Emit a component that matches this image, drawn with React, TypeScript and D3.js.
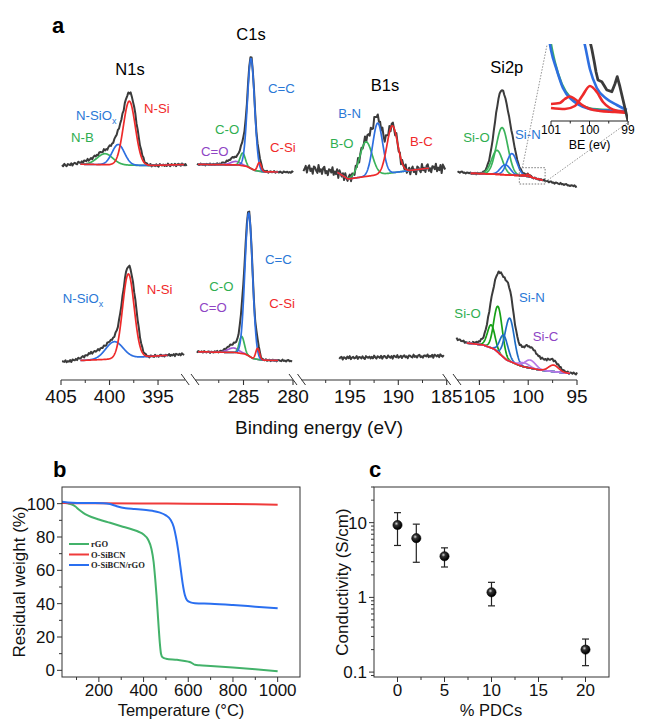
import React from "react";
import * as d3 from "d3";

const FONT = "'Liberation Sans', Arial, Helvetica, sans-serif";
const SERIF = "'Liberation Serif', 'Times New Roman', serif";

// ================= Panel a : XPS =================
const segDomains: [number, number][] = [[405, 392.2], [289.9, 280], [200, 185], [107.3, 95]];
const segMajorTicks = [[405, 400, 395], [285, 280], [195, 190, 185], [105, 100, 95]];
const segMinorTicks = [[402.5, 397.5], [287.5, 282.5], [197.5, 192.5, 187.5], [102.5, 97.5]];
const axisTitleA = "Binding energy (eV)";

// hand-typed measurement noise pattern
const NOISE = [0.2, -0.6, 0.9, -0.1, -0.8, 0.5, 0.1, -0.4, 0.7, -0.9, 0.3, 0.6, -0.2, -0.7, 0.8, 0.0, -0.5, 0.4, -1.0, 0.6,
  0.2, -0.3, 0.9, -0.6, -0.1, 0.5, -0.8, 0.3, 0.7, -0.4, 0.1, -0.9, 0.6, 0.4, -0.2, -0.6, 1.0, -0.3, 0.2, -0.7,
  0.5, 0.8, -0.5, 0.0, -0.8, 0.4, 0.3, -0.2, 0.9, -0.6, 0.1, -0.4, 0.6, -1.0, 0.7, 0.2, -0.3, 0.5, -0.7, 0.8,
  -0.1, -0.5, 0.3, 0.6, -0.9, 0.4, 0.0, -0.6, 0.7, -0.2, 0.9, -0.8, 0.1, 0.5, -0.4, -0.1, 0.8, -0.7, 0.3, 0.2,
  -0.5, 0.6, -0.3, -0.9, 0.7, 0.1, -0.2, 0.4, -0.6];

// background knots [eV, intensity]; fit components [bond, centre eV, height, FWHM eV]; extra [centre, height, FWHM]
const n1sTopBg = [[405, 24.5], [403, 25.8], [399, 25], [396, 24.5], [392, 25.5]];
const n1sTopFit = [["N-B", 400.46, 11, 1.9], ["N-SiOx", 399.1, 20.5, 1.5], ["N-Si", 397.96, 64, 1.45]];
const n1sTopExtra = [[401.8, 3.5, 2.5], [397.3, 12, 1.1]];

const c1sTopBg = [[289.9, 25.7], [285.5, 25], [284.65, 23.5], [284.25, 21.5], [283.85, 19.5], [283.05, 18.2], [279.7, 17.7]];
const c1sTopFit = [["C=O", 285.79, 3.5, 1.2], ["C-O", 285.08, 12.7, 0.6], ["C=C", 284.24, 110, 0.85], ["C-Si", 283.4, 8.7, 0.45]];
const c1sTopExtra = [[285.5, 5, 2.5]];

const b1sTopBg = [[199.9, 22], [196.3, 17.7], [195.2, 11], [193, 14], [190, 18], [187, 21.7], [185, 22]];
const b1sTopFit = [["B-O", 193.34, 34.6, 1.5], ["B-N", 192.13, 51.7, 1.2], ["B-C", 190.62, 47, 1.3]];
const b1sTopExtra: number[][] = [];

const si2pTopBg = [[107.3, 18.3], [105.9, 16.7], [104.5, 16.3], [101, 14.5], [100, 13.5], [99, 11], [97.5, 7.5], [94.9, 3.3]];
const si2pTopFit = [["Si-O", 103.2, 24, 1.3], ["Si-O", 102.68, 47, 1.4], ["Si-N", 102.35, 10, 1.2], ["Si-N", 101.67, 21.5, 1.2], ["bg", 100.53, 1.2, 0.4], ["bg", 100.0, 2.2, 0.45]];
const si2pTopExtra = [[102.6, 11, 1.8]];

const n1sBotBg = [[405, 18], [403, 19.5], [399.5, 21], [396, 23.5], [392, 26]];
const n1sBotFit = [["N-SiOx", 399.5, 17.3, 2.1], ["N-Si", 398.06, 84, 1.4]];
const n1sBotExtra = [[401.5, 7, 2.5], [397.3, 16, 1.0]];

const c1sBotBg = [[289.9, 28.3], [285.85, 27.5], [284.85, 26], [284.45, 24], [284.05, 21.5], [283.25, 20], [279.7, 19]];
const c1sBotFit = [["C=O", 286.03, 4.5, 1.3], ["C-O", 285.18, 17, 0.6], ["C=C", 284.47, 143, 0.9], ["C-Si", 283.57, 11, 0.45]];
const c1sBotExtra = [[285.6, 5, 2]];

const b1sBotBg = [[196.1, 22], [185.2, 24.3]];

const si2pBotBg = [[107.4, 41.5], [106.3, 37], [104.6, 35], [103.5, 31], [102.2, 20], [101, 15], [100.5, 13.3], [98.8, 10], [95.9, 6.7], [94.9, 6.5]];
const si2pBotFit = [["Si-O", 103.8, 23, 0.9], ["Si-O", 103.1, 46, 1.0], ["Si-N", 102.5, 22, 1.0], ["Si-N", 101.9, 43, 1.1], ["Si-C", 100.4, 4, 1.2], ["Si-C", 99.8, 8, 1.3], ["bg", 97.4, 6.5, 1.2]];
const si2pBotExtra = [[102.5, 22, 3], [99, 11, 3]];

// titles [text, eV, intensity] and labels [text, eV, intensity, bond]
const specTitles = [["N1s", 397.89, 115, 0], ["C1s", 284.24, 150, 1], ["B1s", 191.37, 99.3, 2], ["Si2p", 102.2, 117.3, 3]];
const topLabels = [
  ["N-SiO_x", 403.45, 70, "N-SiOx", 0], ["N-Si", 396.44, 77, "N-Si", 0], ["N-B", 403.97, 48.3, "N-B", 0],
  ["C=C", 282.53, 97.3, "C=C", 1], ["C-O", 287.88, 56, "C-O", 1], ["C=O", 289.29, 34, "C=O", 1], ["C-Si", 282.32, 38.3, "C-Si", 1],
  ["B-N", 196.2, 71.7, "B-N", 2], ["B-O", 197.06, 41.7, "B-O", 2], ["B-C", 188.79, 44.3, "B-C", 2],
  ["Si-O", 106.65, 48.3, "Si-O", 3], ["Si-N", 101.35, 50.7, "Si-N", 3],
];
const botLabels = [
  ["N-SiO_x", 404.82, 77.3, "N-SiOx", 0], ["N-Si", 396.16, 86, "N-Si", 0],
  ["C=C", 282.83, 116, "C=C", 1], ["C-O", 288.45, 89.3, "C-O", 1], ["C=O", 289.46, 68, "C=O", 1], ["C-Si", 282.39, 71.7, "C-Si", 1],
  ["Si-O", 107.57, 61.7, "Si-O", 3], ["Si-N", 100.94, 77.7, "Si-N", 3], ["Si-C", 99.54, 39.3, "Si-C", 3],
];

// zoom box in Si2p (eV range, intensity range)
const zoomBoxE = [100.91, 98.27];
const zoomBoxI = [22.3, 6];
// inset: [eV, zoomed intensity]
const insetTicks = [101, 100, 99];
const insetMinor = [100.5, 99.5];
const insetBlack = [[100.05, 95], [99.99, 80], [99.94, 72], [99.88, 60], [99.83, 49], [99.78, 41], [99.68, 39.3], [99.55, 31], [99.42, 29.3], [99.34, 37], [99.28, 44.3], [99.21, 34.3], [99.08, 13], [99.0, 0]];
const insetBlueR = [[100.25, 95], [100.12, 76], [99.99, 52], [99.81, 33], [99.55, 22], [99.29, 16], [99.03, 11]];
const insetBlueL = [[101.05, 82], [101, 71], [100.85, 51], [100.69, 33], [100.43, 20.3], [100.17, 14.3], [99.81, 11], [99.39, 10.3], [99.03, 10]];
const insetGreenL = [[101.03, 84], [101, 77], [100.9, 59], [100.72, 37], [100.46, 22], [100.17, 15], [99.81, 11.7], [99.47, 11]];
const insetRed1 = [[101, 17], [100.77, 18], [100.64, 22], [100.51, 24.5], [100.38, 22], [100.19, 16], [99.99, 12], [99.73, 10], [99.34, 9], [99.03, 8]];
const insetRed2 = [[101, 13], [100.64, 12], [100.38, 15], [100.19, 25], [99.99, 35], [99.81, 29], [99.65, 19], [99.47, 13], [99.26, 10], [99.03, 9]];

// ================= Panel b : TGA =================
const rgoT = [35, 60, 80, 95, 110, 130, 150, 200, 250, 300, 350, 380, 400, 420, 435, 445, 452, 458, 463, 468, 473, 478, 485, 500, 550, 600, 615, 630, 650, 700, 800, 900, 1000];
const rgoW = [100.5, 100.2, 99.5, 98.3, 96.5, 94.5, 93, 90.5, 88.5, 86.5, 84.5, 83, 81.5, 78.5, 73, 65, 55, 45, 35, 25, 16, 10, 7.8, 7, 6.3, 5.2, 4.5, 3.3, 3, 2.6, 1.7, 0.7, -0.5];
const osiT = [35, 100, 200, 400, 600, 800, 900, 1000];
const osiW = [100.4, 100.3, 100.2, 100.1, 100, 99.8, 99.6, 99.3];
const compT = [35, 80, 150, 220, 250, 280, 320, 360, 400, 440, 470, 500, 520, 535, 545, 555, 565, 575, 585, 595, 610, 630, 700, 800, 900, 1000];
const compW = [101.2, 100.6, 100.4, 100.3, 99.8, 98.5, 97.3, 96.8, 96.3, 95.7, 94.8, 93, 90.5, 86, 80, 72, 62, 52, 45, 42, 40.8, 40.3, 40, 39.2, 38.2, 37.2];
const tgaLegend = ["rGO", "O-SiBCN", "O-SiBCN/rGO"];
const bXTicks = [200, 400, 600, 800, 1000];
const bXMinor = [100, 300, 500, 700, 900];
const bYTicks = [0, 20, 40, 60, 80, 100];
const bYMinor = [10, 30, 50, 70, 90];

// ================= Panel c : conductivity =================
const pdc = [0, 2, 5, 10, 20];
const cond = [9.3, 6.2, 3.55, 1.17, 0.2];
const condLo = [4.95, 2.95, 2.55, 0.77, 0.122];
const condHi = [13.6, 9.55, 4.6, 1.59, 0.277];
const cXTicks = [0, 5, 10, 15, 20];
const cXMinor = [2.5, 7.5, 12.5, 17.5];
const cYTicks = [0.1, 1, 10];
const cYTickLabels = ["0.1", "1", "10"];
const cYMinor = [0.09, 0.2, 0.3, 0.4, 0.5, 0.6, 0.7, 0.8, 0.9, 2, 3, 4, 5, 6, 7, 8, 9, 20, 30];

// ================= styles / layout =================
const C = { red: "#ee2a2a", blue: "#2e6fe0", green: "#3bb35b", purple: "#a45bd6", black: "#3b3b3b" };
const bondColor: Record<string, string> = {
  "N-B": C.green, "N-SiOx": C.blue, "N-Si": C.red, "C=O": C.purple, "C-O": C.green, "C=C": C.blue, "C-Si": C.red,
  "B-O": C.green, "B-N": C.blue, "B-C": C.red, "Si-O": C.green, "Si-N": C.blue, "Si-C": C.purple, bg: C.red,
};
const darkBondColor: Record<string, string> = { ...bondColor, "Si-O": "#17a017", "Si-N": "#1d6cc4", "Si-C": "#b67be6" };
const labelColor: Record<string, string> = {
  "N-B": "#2fae50", "N-SiOx": "#2a78d6", "N-Si": "#f02a2a", "C=O": "#8e44c4", "C-O": "#2fae50", "C=C": "#2a78d6", "C-Si": "#f02a2a",
  "B-O": "#2fae50", "B-N": "#2a78d6", "B-C": "#f02a2a", "Si-O": "#2fae50", "Si-N": "#2a78d6", "Si-C": "#8e44c4",
};

const SEG_RANGES: [number, number][] = [[61, 185.2], [195, 293], [301.5, 446.7], [457, 577]];
const AXIS_Y = 380;
const segScales = segDomains.map((d, i) => d3.scaleLinear().domain(d).range(SEG_RANGES[i]));
const rowScales = [d3.scaleLinear().domain([0, 130]).range([190, 60]), d3.scaleLinear().domain([0, 170]).range([380, 210])];

type Spec = { seg: number; row: number; range: number[]; fitRange: number[]; bg: number[][]; fit: any[]; extra: number[][]; noise: number; off: number; dark?: boolean };
const spectra: Spec[] = [
  { seg: 0, row: 0, range: [404.9, 392.0], fitRange: [403, 392.3], bg: n1sTopBg, fit: n1sTopFit, extra: n1sTopExtra, noise: 1.5, off: 0 },
  { seg: 1, row: 0, range: [289.7, 279.9], fitRange: [289.6, 281.5], bg: c1sTopBg, fit: c1sTopFit, extra: c1sTopExtra, noise: 1.0, off: 11 },
  { seg: 2, row: 0, range: [199.8, 185.1], fitRange: [196.3, 186.8], bg: b1sTopBg, fit: b1sTopFit, extra: b1sTopExtra, noise: 5, off: 23 },
  { seg: 3, row: 0, range: [107.25, 94.95], fitRange: [105.9, 98.5], bg: si2pTopBg, fit: si2pTopFit, extra: si2pTopExtra, noise: 0.9, off: 37 },
  { seg: 0, row: 1, range: [404.9, 392.2], fitRange: [403, 394], bg: n1sBotBg, fit: n1sBotFit, extra: n1sBotExtra, noise: 1.3, off: 45 },
  { seg: 1, row: 1, range: [289.7, 280.0], fitRange: [289.6, 281.5], bg: c1sBotBg, fit: c1sBotFit, extra: c1sBotExtra, noise: 1.0, off: 53 },
  { seg: 2, row: 1, range: [196.1, 185.2], fitRange: [196, 196], bg: b1sBotBg, fit: [], extra: [], noise: 1.8, off: 61 },
  { seg: 3, row: 1, range: [107.35, 94.95], fitRange: [106.3, 95.7], bg: si2pBotBg, fit: si2pBotFit, extra: si2pBotExtra, noise: 1.2, off: 70, dark: true },
];

const gauss = (E: number, c: number, h: number, w: number) => h * Math.exp((-4 * Math.LN2 * (E - c) * (E - c)) / (w * w));

function Spectrum({ s }: { s: Spec }) {
  const x = segScales[s.seg];
  const y = rowScales[s.row];
  const bg = d3.scaleLinear().domain(s.bg.map((k) => k[0])).range(s.bg.map((k) => k[1])).clamp(true);
  const measured = (E: number) =>
    bg(E) + s.fit.reduce((a, f) => a + gauss(E, f[1], f[2], f[3]), 0) + s.extra.reduce((a, f) => a + gauss(E, f[0], f[1], f[2]), 0);
  const line = d3.line<number[]>().x((d) => x(d[0])).y((d) => y(d[1]));
  const Es = d3.range(s.range[0], s.range[1], -0.12);
  const black = line(Es.map((E, i) => [E, measured(E) + s.noise * NOISE[(i + s.off) % NOISE.length]]));
  const fEs = d3.range(s.fitRange[0], s.fitRange[1], -0.03);
  const pal = s.dark ? darkBondColor : bondColor;
  return (
    <g>
      <path d={black || ""} fill="none" stroke={C.black} strokeWidth={2} strokeLinejoin="round" />
      {s.fit.map((f, i) => (
        <path key={i} d={line(fEs.map((E) => [E, bg(E) + gauss(E, f[1], f[2], f[3])])) || ""} fill="none" stroke={pal[f[0]]} strokeWidth={1.7} />
      ))}
    </g>
  );
}

function Label({ t, x, y, color }: { t: string; x: number; y: number; color: string }) {
  if (t.endsWith("_x")) {
    return (
      <text x={x} y={y} fill={color} fontSize={13.2}>
        {t.slice(0, -2)}
        <tspan dy={4} fontSize={9}>x</tspan>
      </text>
    );
  }
  return (
    <text x={x} y={y} fill={color} fontSize={13.2}>{t}</text>
  );
}

function PanelA() {
  const insX = d3.scaleLinear().domain([101, 99]).range([551, 628]);
  const insY = d3.scaleLinear().domain([0, 80]).range([121, 41]);
  const iline = d3.line<number[]>().x((d) => insX(d[0])).y((d) => insY(d[1])).curve(d3.curveMonotoneX);
  const s3 = segScales[3];
  const r0 = rowScales[0];
  const bx0 = s3(zoomBoxE[0]), bx1 = s3(zoomBoxE[1]), by0 = r0(zoomBoxI[0]), by1 = r0(zoomBoxI[1]);
  const slashes: number[] = [];
  SEG_RANGES.forEach((r, i) => {
    if (i > 0) slashes.push(r[0]);
    if (i < SEG_RANGES.length - 1) slashes.push(r[1]);
  });
  return (
    <g>
      <text x={52} y={33} fontSize={22} fontWeight="bold">a</text>
      {spectra.map((s, i) => <Spectrum key={i} s={s} />)}
      {specTitles.map((t, i) => (
        <text key={i} x={segScales[t[3] as number](t[1] as number)} y={r0(t[2] as number)} fontSize={16.5} textAnchor="middle">{t[0]}</text>
      ))}
      {topLabels.map((l, i) => (
        <Label key={i} t={l[0] as string} x={segScales[l[4] as number](l[1] as number)} y={r0(l[2] as number)} color={labelColor[l[3] as string]} />
      ))}
      {botLabels.map((l, i) => (
        <Label key={i} t={l[0] as string} x={segScales[l[4] as number](l[1] as number)} y={rowScales[1](l[2] as number)} color={labelColor[l[3] as string]} />
      ))}
      {/* zoom box and guides */}
      <rect x={bx0} y={by0} width={bx1 - bx0} height={by1 - by0} fill="none" stroke="#555" strokeWidth={0.8} strokeDasharray="1.5,1.5" />
      <line x1={bx0 + 3} y1={by0} x2={insX(101) - 4} y2={insY(80) + 4} stroke="#777" strokeWidth={0.8} strokeDasharray="1.5,1.5" />
      <line x1={bx1} y1={by1 - 2} x2={insX(99) + 2} y2={insY(0)} stroke="#777" strokeWidth={0.8} strokeDasharray="1.5,1.5" />
      {/* inset */}
      <defs>
        <clipPath id="insClip">
          <rect x={insX(101) - 3} y={44} width={insX(99) - insX(101) + 3} height={insY(0) - 44} />
        </clipPath>
      </defs>
      <g clipPath="url(#insClip)">
        <path d={iline(insetGreenL) || ""} fill="none" stroke={C.green} strokeWidth={2.4} />
        <path d={iline(insetBlueL) || ""} fill="none" stroke={C.blue} strokeWidth={2.6} />
        <path d={iline(insetBlueR) || ""} fill="none" stroke={C.blue} strokeWidth={2.6} />
        <path d={iline(insetRed1) || ""} fill="none" stroke={C.red} strokeWidth={2.6} />
        <path d={iline(insetRed2) || ""} fill="none" stroke={C.red} strokeWidth={2.6} />
        <path d={d3.line<number[]>().x((d) => insX(d[0])).y((d) => insY(d[1]))(insetBlack) || ""} fill="none" stroke={C.black} strokeWidth={2.8} strokeLinejoin="round" />
      </g>
      <line x1={insX(101)} x2={insX(99)} y1={insY(0)} y2={insY(0)} stroke="#222" strokeWidth={1} />
      {insetTicks.map((t) => (
        <g key={t}>
          <line x1={insX(t)} x2={insX(t)} y1={insY(0)} y2={insY(0) + 4} stroke="#222" />
          <text x={insX(t)} y={insY(0) + 13} fontSize={12} textAnchor="middle">{t}</text>
        </g>
      ))}
      {insetMinor.map((t) => <line key={t} x1={insX(t)} x2={insX(t)} y1={insY(0)} y2={insY(0) + 2.5} stroke="#222" />)}
      <text x={(insX(101) + insX(99)) / 2} y={149} fontSize={12.5} textAnchor="middle">BE (ev)</text>
      {/* axis */}
      {segScales.map((sc, i) => (
        <g key={i}>
          <line x1={SEG_RANGES[i][0]} x2={SEG_RANGES[i][1]} y1={AXIS_Y} y2={AXIS_Y} stroke="#333" strokeWidth={1.1} />
          {segMajorTicks[i].map((t) => (
            <g key={t}>
              <line x1={sc(t)} x2={sc(t)} y1={AXIS_Y} y2={AXIS_Y + 5} stroke="#333" strokeWidth={1.1} />
              <text x={sc(t)} y={AXIS_Y + 23} fontSize={19} textAnchor="middle" fill="#111">{t}</text>
            </g>
          ))}
          {segMinorTicks[i].map((t) => <line key={t} x1={sc(t)} x2={sc(t)} y1={AXIS_Y} y2={AXIS_Y + 3} stroke="#333" strokeWidth={1} />)}
        </g>
      ))}
      {slashes.map((sx, i) => <line key={i} x1={sx - 4} y1={AXIS_Y - 6} x2={sx + 4} y2={AXIS_Y + 5} stroke="#333" strokeWidth={1} />)}
      <text x={319} y={434} fontSize={19} textAnchor="middle" fill="#111">{axisTitleA}</text>
    </g>
  );
}

function PanelB() {
  const x = d3.scaleLinear().domain([35, 1100]).range([62, 300]);
  const y = d3.scaleLinear().domain([-4, 110]).range([677, 487]);
  const mk = (T: number[], W: number[]) => d3.line<number>().x((_, i) => x(T[i])).y((d) => y(d)).curve(d3.curveMonotoneX)(W) || "";
  const series = [
    { name: tgaLegend[0], d: mk(rgoT, rgoW), color: "#43b26a" },
    { name: tgaLegend[1], d: mk(osiT, osiW), color: "#ef3b3b" },
    { name: tgaLegend[2], d: mk(compT, compW), color: "#2a6ff0" },
  ];
  const [x0, x1] = x.range();
  const [yb, yt] = y.range();
  return (
    <g>
      <text x={53} y={477} fontSize={22} fontWeight="bold">b</text>
      {series.map((s) => <path key={s.name} d={s.d} fill="none" stroke={s.color} strokeWidth={2} />)}
      <rect x={x0} y={yt} width={x1 - x0} height={yb - yt} fill="none" stroke="#333" strokeWidth={1} />
      {bXTicks.map((t) => (
        <g key={t}>
          <line x1={x(t)} x2={x(t)} y1={yb} y2={yb + 5} stroke="#333" />
          <text x={x(t)} y={696} fontSize={17} textAnchor="middle" fill="#111">{t}</text>
        </g>
      ))}
      {bXMinor.map((t) => <line key={t} x1={x(t)} x2={x(t)} y1={yb} y2={yb + 3} stroke="#333" />)}
      {bYTicks.map((t) => (
        <g key={t}>
          <line x1={x0 - 5} x2={x0} y1={y(t)} y2={y(t)} stroke="#333" />
          <text x={x0 - 7} y={y(t) + 6} fontSize={17} textAnchor="end" fill="#111">{t}</text>
        </g>
      ))}
      {bYMinor.map((t) => <line key={t} x1={x0 - 3} x2={x0} y1={y(t)} y2={y(t)} stroke="#333" />)}
      <text x={181} y={716} fontSize={16.5} textAnchor="middle" fill="#111">Temperature (°C)</text>
      <text transform={`translate(25,582) rotate(-90)`} fontSize={17} textAnchor="middle" fill="#111">Residual weight (%)</text>
      {series.map((s, i) => (
        <g key={s.name}>
          <line x1={69} x2={89} y1={544 + i * 10.5} y2={544 + i * 10.5} stroke={s.color} strokeWidth={2} />
          <text x={91} y={547 + i * 10.5} fontSize={8.5} fontFamily={SERIF} fontWeight="bold" fill="#222">{s.name}</text>
        </g>
      ))}
    </g>
  );
}

function PanelC() {
  const x = d3.scaleLinear().domain([-2.5, 22.5]).range([374, 609]);
  const y = d3.scaleLog().domain([0.086, 30]).range([677, 487]);
  const [x0, x1] = x.range();
  const [yb, yt] = y.range();
  return (
    <g>
      <text x={369} y={477} fontSize={22} fontWeight="bold">c</text>
      <defs>
        <radialGradient id="ball" cx="0.38" cy="0.35" r="0.6">
          <stop offset="0" stopColor="#d8d8d8" />
          <stop offset="0.35" stopColor="#333" />
          <stop offset="1" stopColor="#000" />
        </radialGradient>
      </defs>
      <rect x={x0} y={yt} width={x1 - x0} height={yb - yt} fill="none" stroke="#333" strokeWidth={1} />
      {pdc.map((p, i) => (
        <g key={p}>
          <line x1={x(p)} x2={x(p)} y1={y(condLo[i])} y2={y(condHi[i])} stroke="#222" strokeWidth={1.2} />
          <line x1={x(p) - 3.5} x2={x(p) + 3.5} y1={y(condLo[i])} y2={y(condLo[i])} stroke="#222" strokeWidth={1.2} />
          <line x1={x(p) - 3.5} x2={x(p) + 3.5} y1={y(condHi[i])} y2={y(condHi[i])} stroke="#222" strokeWidth={1.2} />
          <circle cx={x(p)} cy={y(cond[i])} r={4.6} fill="url(#ball)" stroke="#000" strokeWidth={0.6} />
        </g>
      ))}
      {cXTicks.map((t) => (
        <g key={t}>
          <line x1={x(t)} x2={x(t)} y1={yb} y2={yb + 5} stroke="#333" />
          <text x={x(t)} y={696} fontSize={17} textAnchor="middle" fill="#111">{t}</text>
        </g>
      ))}
      {cXMinor.map((t) => <line key={t} x1={x(t)} x2={x(t)} y1={yb} y2={yb + 3} stroke="#333" />)}
      {cYTicks.map((t, i) => (
        <g key={t}>
          <line x1={x0 - 5} x2={x0} y1={y(t)} y2={y(t)} stroke="#333" />
          <text x={x0 - 7} y={y(t) + 6} fontSize={17} textAnchor="end" fill="#111">{cYTickLabels[i]}</text>
        </g>
      ))}
      {cYMinor.map((t) => <line key={t} x1={x0 - 3} x2={x0} y1={y(t)} y2={y(t)} stroke="#333" />)}
      <text x={491} y={716} fontSize={16.5} textAnchor="middle" fill="#111">% PDCs</text>
      <text transform={`translate(348,582) rotate(-90)`} fontSize={17} textAnchor="middle" fill="#111">Conductivity (S/cm)</text>
    </g>
  );
}

export default function App() {
  return (
    <svg width={668} height={723} viewBox="0 0 668 723" fontFamily={FONT}
      style={{ position: "absolute", left: 0, top: 0, display: "block", background: "#fff" }}>
      <rect width={668} height={723} fill="#fff" />
      <PanelA />
      <PanelB />
      <PanelC />
    </svg>
  );
}
